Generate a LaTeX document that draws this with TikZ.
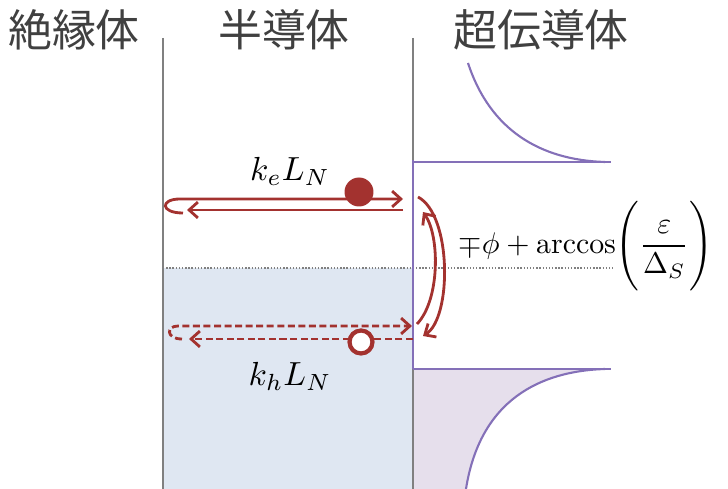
\documentclass[tikz,border=0pt]{standalone}
\usepackage{amsmath}
\usepackage{fontspec}
\newfontfamily\jpfont{Noto Sans CJK JP}
\usetikzlibrary{arrows.meta}
\definecolor{wine}{HTML}{A3322F}
\definecolor{gap}{HTML}{8470B8}
\definecolor{semi}{HTML}{DFE7F2}
\definecolor{cond}{HTML}{E6DFEC}
\begin{document}
\begin{tikzpicture}[x=0.02cm, y=-0.02cm,
		ray/.style={wine, line width=1.6pt, -{Straight Barb[length=5pt, width=9pt, line width=1.6pt]}},
		hray/.style={ray, dash pattern=on 4pt off 2pt},
		dos/.style={gap, line width=1.2pt},
		title/.style={font=\jpfont\fontsize{25}{30}\selectfont, text=black!75}]
		\useasboundingbox (0,0) rectangle (728,489);
		% regions
		\fill[semi] (163,268) rectangle (413,489);
		\fill[cond] (413,369) -- (605,369) .. controls (540,371) and (480,400) .. (466,489) -- (413,489) -- cycle;
		\draw[gray, densely dotted, line width=0.8pt] (163,268) -- (614,268);
		\draw[gray, line width=1pt] (163,38) -- (163,489);
		\draw[gray, line width=1pt] (413,38) -- (413,489);
		\draw[dos] (413,160) -- (413,369);
		% density of states
		\draw[dos] (413,162) -- (611,162);
		\draw[dos] (468,63) .. controls (490,130) and (540,160) .. (605,162);
		\draw[dos] (413,369) -- (611,369);
		\draw[dos] (605,369) .. controls (540,371) and (480,400) .. (466,489);
		% titles
		\node[title] (ins) at (74,30) {絶縁体};
		\node[title] (sem) at (284,30) {半導体};
		\node[title] (sc) at (541,30) {超伝導体};
		% reflection points
		\coordinate (e1) at (180,199);
		\coordinate (e2) at (403,199);
		\coordinate (e3) at (403,210);
		\coordinate (e4) at (187,210);
		\coordinate (h1) at (178,326);
		\coordinate (h2) at (412,326);
		\coordinate (h3) at (413,339);
		\coordinate (h4) at (189,339);
		\coordinate (a1) at (418,197);
		\coordinate (a2) at (423,336);
		\coordinate (b1) at (417,324);
		\coordinate (b2) at (423,212);
		% electron and hole
		\draw[ray] (183,213) .. controls (160,213) and (160,199) .. (e1) -- (e2);
		\draw[ray] (e3) -- (e4);
		\draw[hray] (182,339) .. controls (166,339) and (166,326) .. (h1) -- (h2);
		\draw[hray] (h3) -- (h4);
		\node[circle, fill=wine, minimum size=0.58cm, inner sep=0pt] (el) at (359,192) {};
		\node[circle, draw=wine, fill=white, line width=2.4pt, minimum size=0.46cm, inner sep=0pt] (ho) at (361,342) {};
		% Andreev reflection
		\draw[ray] (a1) .. controls (452,215) and (452,318) .. (a2);
		\draw[ray] (b1) .. controls (440,300) and (440,236) .. (b2);
		% labels
		\node[scale=1.9] (ke) at (290,171) {$k_eL_N$};
		\node[scale=1.9] (kh) at (290,376) {$k_hL_N$};
		\node[scale=1.7, anchor=west, inner sep=0pt] (ph) at (458,246) {$\mp\phi+\arccos\Biggl(\dfrac{\varepsilon}{\Delta_S}\Biggr)$};
	\end{tikzpicture}
\end{document}
